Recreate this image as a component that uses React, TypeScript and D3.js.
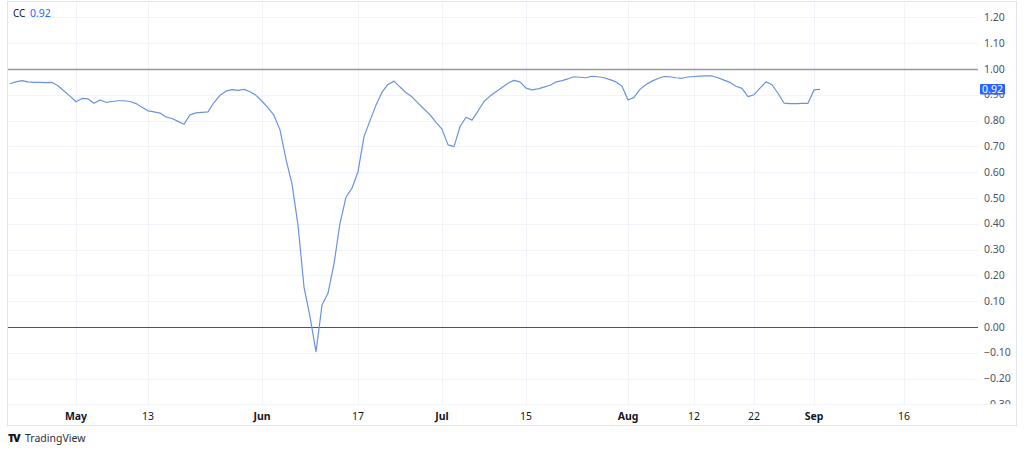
import React from "react";
import * as d3 from "d3";

const SERIES_NAME = "CC";
const START_DATE = "2024-04-20";
// daily values, Apr 20 .. Sep 2
const ccValues: number[] = [
  0.943, 0.95, 0.955, 0.95, 0.948, 0.948, 0.947, 0.948, 0.935, 0.915, 0.895,
  0.873, 0.886, 0.884, 0.867, 0.88, 0.871, 0.874, 0.877, 0.877, 0.874, 0.866,
  0.852, 0.838, 0.834, 0.829, 0.814, 0.808, 0.797, 0.786, 0.822, 0.83, 0.832,
  0.834, 0.87, 0.898, 0.914, 0.92, 0.917, 0.921, 0.912, 0.898,
  0.875, 0.85, 0.82, 0.764, 0.65, 0.555, 0.395, 0.155, 0.04, -0.096, 0.085,
  0.131, 0.245, 0.402, 0.503, 0.538, 0.602, 0.738, 0.8, 0.86, 0.91, 0.94,
  0.953, 0.93, 0.908, 0.892, 0.868, 0.845, 0.823, 0.793,
  0.767, 0.706, 0.699, 0.776, 0.813, 0.802, 0.837, 0.874, 0.895, 0.912, 0.928,
  0.945, 0.956, 0.95, 0.926, 0.919, 0.923, 0.93, 0.937, 0.95, 0.955, 0.962,
  0.97, 0.968, 0.966, 0.972, 0.97, 0.966, 0.959, 0.95, 0.933,
  0.88, 0.89, 0.921, 0.94, 0.953, 0.963, 0.971, 0.97, 0.966, 0.964, 0.969,
  0.971, 0.972, 0.973, 0.973, 0.966, 0.957, 0.948, 0.933, 0.925, 0.893, 0.9,
  0.926, 0.95, 0.939, 0.906, 0.868, 0.866, 0.866, 0.867, 0.867,
  0.919, 0.921,
];
const yTicks: number[] = [1.2, 1.1, 1.0, 0.9, 0.8, 0.7, 0.6, 0.5, 0.4, 0.3, 0.2, 0.1, 0, -0.1, -0.2, -0.3];
const xTickDates: string[] = ["2024-05-01", "2024-05-13", "2024-06-01", "2024-06-17", "2024-07-01", "2024-07-15", "2024-08-01", "2024-08-12", "2024-08-22", "2024-09-01", "2024-09-16"];
const xTickLabels: string[] = ["May", "13", "Jun", "17", "Jul", "15", "Aug", "12", "22", "Sep", "16"];
const xTickBold: boolean[] = [true, false, true, false, true, false, true, false, false, true, false];
const refLevels: number[] = [1.0, 0.0];

const FONT = "'Noto Sans', 'Open Sans', sans-serif";

export default function App() {
  const W = 1024, H = 452;
  const plotL = 8, plotR = 978, plotT = 2, plotB = 404;
  const start = new Date(START_DATE + "T00:00:00Z");
  const data = ccValues.map((v, i) => ({ date: d3.utcDay.offset(start, i), v }));

  const x = d3.scaleUtc()
    .domain([new Date("2024-05-01T00:00:00Z"), new Date("2024-09-01T00:00:00Z")])
    .range([76, 814]);
  const y = d3.scaleLinear().domain([-0.3, 1.2]).range([404.4, 17.4]);

  const line = d3.line<{ date: Date; v: number }>()
    .x(d => x(d.date))
    .y(d => y(d.v));

  const last = data[data.length - 1];
  const lastY = y(last.v);
  const fmt = d3.format(".2f");

  return (
    <svg width={W} height={H} style={{ position: "absolute", left: 0, top: 0, background: "#fff" }}>
      <defs>
        <clipPath id="plotclip">
          <rect x={plotL} y={plotT} width={plotR - plotL} height={plotB - plotT} />
        </clipPath>
        <clipPath id="axisclip">
          <rect x={978} y={plotT} width={40} height={plotB - plotT} />
        </clipPath>
      </defs>
      {/* grid */}
      <g clipPath="url(#plotclip)">
        {yTicks.map((t, i) => (
          <line key={"gy" + i} x1={plotL} x2={plotR} y1={Math.round(y(t)) + 0.5} y2={Math.round(y(t)) + 0.5} stroke="#f0f3fa" />
        ))}
        {xTickDates.map((d, i) => {
          const xx = Math.round(x(new Date(d + "T00:00:00Z"))) + 0.5;
          return <line key={"gx" + i} x1={xx} x2={xx} y1={plotT} y2={plotB} stroke="#f0f3fa" />;
        })}
        <line x1={plotL} x2={plotR} y1={Math.round(y(refLevels[0])) + 0.5} y2={Math.round(y(refLevels[0])) + 0.5} stroke="#9598a1" strokeWidth={1.5} />
        <line x1={plotL} x2={plotR} y1={Math.round(y(refLevels[1])) + 0.5} y2={Math.round(y(refLevels[1])) + 0.5} stroke="#50535e" strokeWidth={1} />
        <path d={line(data) || ""} fill="none" stroke="#6a93dc" strokeWidth={1.2} strokeLinejoin="round" />
      </g>
      {/* frame */}
      <rect x={7.5} y={1.5} width={1016.5 - 7.5} height={425.5 - 1.5} fill="none" stroke="#e0e3eb" />
      <line x1={7.5} x2={1016.5} y1={404.5} y2={404.5} stroke="#f0f3fa" />
      {/* right axis labels */}
      <g clipPath="url(#axisclip)">
        {yTicks.map((t, i) => (
          <text key={"ty" + i} x={984} y={y(t)} dy="0.35em" fontSize={10.5} fontFamily={FONT} fill="#50535e">
            {fmt(t).replace("-", "\u2212")}
          </text>
        ))}
      </g>
      {/* last value label */}
      <rect x={980} y={lastY - 5.5} width={25} height={10.5} fill="#2962ff" rx={1} />
      <text x={992.5} y={lastY} dy="0.35em" textAnchor="middle" fontSize={10.5} fontFamily={FONT} fill="#fff">
        {fmt(last.v)}
      </text>
      {/* time axis labels */}
      {xTickDates.map((d, i) => (
        <text key={"tx" + i} x={x(new Date(d + "T00:00:00Z"))} y={416} dy="0.35em" textAnchor="middle"
          fontSize={10.5} fontFamily={FONT} fontWeight={xTickBold[i] ? 700 : 400} fill="#131722">
          {xTickLabels[i]}
        </text>
      ))}
      {/* legend */}
      <text x={13} y={13} dy="0.35em" fontSize={10} fontFamily={FONT} fill="#131722">{SERIES_NAME}</text>
      <text x={30} y={13} dy="0.35em" fontSize={10.5} fontFamily={FONT} fill="#2962ff">{fmt(last.v)}</text>
      {/* TradingView logo */}
      <text x={8} y={438} dy="0.35em" fontSize={11} fontFamily={FONT} fontWeight={900} fill="#131722" letterSpacing={-1.5}>TV</text>
      <text x={25} y={438} dy="0.35em" fontSize={10.5} fontFamily={FONT} fill="#2a2e39">TradingView</text>
    </svg>
  );
}
